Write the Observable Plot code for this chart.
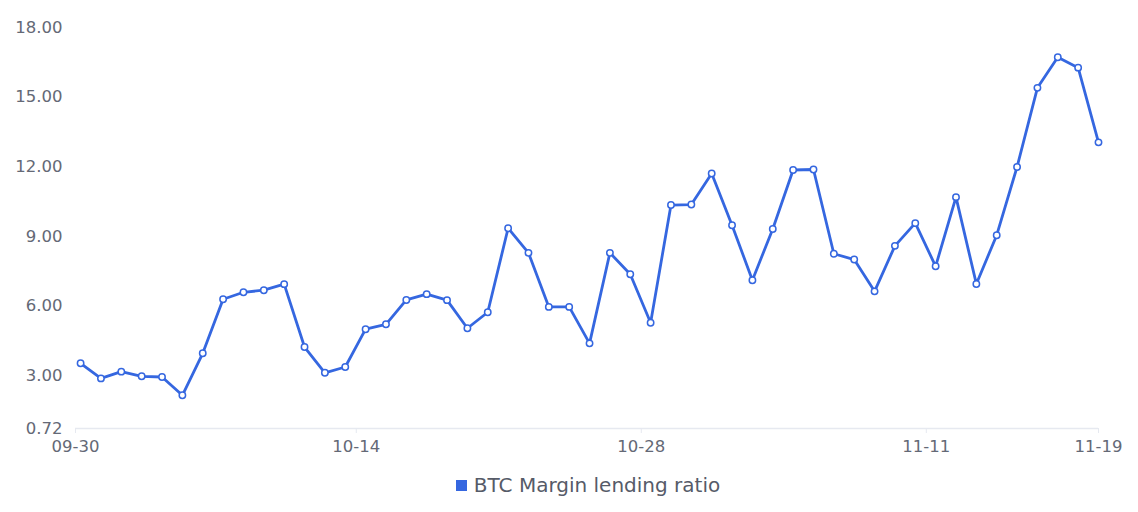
<!DOCTYPE html>
<html>
<head>
<meta charset="utf-8">
<script src="https://cdn.jsdelivr.net/npm/d3@7"></script>
<script src="https://cdn.jsdelivr.net/npm/@observablehq/plot@0.6"></script>
<style>
  html, body { margin: 0; padding: 0; background: #fff; }
  body { width: 1138px; height: 512px; overflow: hidden; font-family: "DejaVu Sans", sans-serif; }
  #legend { position: absolute; left: 0; top: 473px; width: 1138px; display: flex; justify-content: center; align-items: center; padding-left: 38px; box-sizing: border-box; color: #565b68; font-size: 20px; }
  #legend .sw { width: 11px; height: 11px; background: #3567e0; margin-right: 7px; display: inline-block; }
</style>
</head>
<body>
<div id="chart"></div>
<div id="legend"><span class="sw"></span><span>BTC Margin lending ratio</span></div>
<script>
const seriesName = "BTC Margin lending ratio";
const year = 2024;
const dates = [
  "09-30","10-01","10-02","10-03","10-04","10-05","10-06","10-07","10-08","10-09",
  "10-10","10-11","10-12","10-13","10-14","10-15","10-16","10-17","10-18","10-19",
  "10-20","10-21","10-22","10-23","10-24","10-25","10-26","10-27","10-28","10-29",
  "10-30","10-31","11-01","11-02","11-03","11-04","11-05","11-06","11-07","11-08",
  "11-09","11-10","11-11","11-12","11-13","11-14","11-15","11-16","11-17","11-18",
  "11-19"
];
const values = [
  3.53, 2.88, 3.17, 2.97, 2.94, 2.15, 3.96, 6.29, 6.59, 6.68,
  6.94, 4.23, 3.12, 3.37, 5.00, 5.21, 6.26, 6.51, 6.25, 5.04,
  5.73, 9.35, 8.29, 5.96, 5.96, 4.39, 8.29, 7.37, 5.28, 10.35,
  10.37, 11.71, 9.48, 7.11, 9.32, 11.86, 11.88, 8.25, 8.00, 6.63,
  8.59, 9.57, 7.71, 10.69, 6.95, 9.05, 11.99, 15.40, 16.72, 16.27,
  13.05
];
const yTicks = [0.72, 3, 6, 9, 12, 15, 18];
const xTickLabels = ["09-30", "10-14", "10-28", "11-11", "11-19"];
const sampleHour = "T11:00Z";      // time of day of each sample
const axisStart = "T05:00Z";       // axis begins shortly before the first sample

const toDate = (md, t) => new Date(`${year}-${md}${t}`);
const data = dates.map((d, i) => ({date: toDate(d, sampleHour), value: values[i]}));
const xDomain = [toDate(dates[0], axisStart), toDate(dates[dates.length - 1], sampleHour)];
const xTicks = xTickLabels.map((l, i) =>
  i === 0 ? xDomain[0] : i === xTickLabels.length - 1 ? xDomain[1] : toDate(l, "T00:00Z"));
const fmt = d3.utcFormat("%m-%d");

const color = "#3567e0";
const chart = Plot.plot({
  width: 1138,
  height: 460,
  marginLeft: 75,
  marginRight: 40,
  marginTop: 27,
  marginBottom: 32,
  style: {fontFamily: "'DejaVu Sans', sans-serif", fontSize: "16.5px", color: "#646976", background: "#fff"},
  x: {type: "utc", domain: xDomain, label: null},
  y: {domain: [0.72, 18], label: null},
  marks: [
    Plot.ruleY([0.72], {stroke: "#e6e9f0", strokeWidth: 1.5}),
    Plot.axisX({ticks: xTicks, tickFormat: fmt, tickSize: 5, stroke: "#e6e9f0", tickPadding: 7, fill: "#646976", fontSize: 16.5, label: null}),
    Plot.axisY({ticks: yTicks, tickFormat: d => d.toFixed(2), tickSize: 0, tickPadding: 13, fill: "#646976", fontSize: 16.5, label: null}),
    Plot.line(data, {x: "date", y: "value", stroke: color, strokeWidth: 2.8, curve: "linear"}),
    Plot.dot(data, {x: "date", y: "value", r: 3.2, fill: "#fff", stroke: color, strokeWidth: 1.5})
  ]
});
document.getElementById("chart").appendChild(chart);
</script>
</body>
</html>
